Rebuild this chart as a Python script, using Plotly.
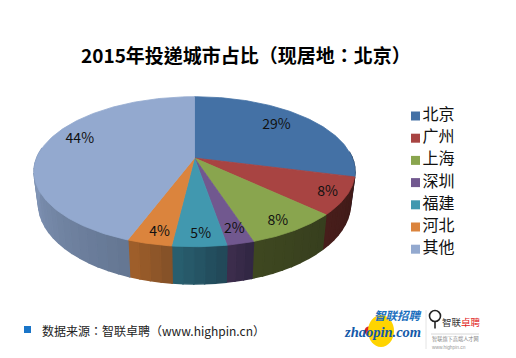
import math
import plotly.graph_objects as go

# Data
categories = ["北京", "广州", "上海", "深圳", "福建", "河北", "其他"]
values = [29.0, 8.0, 8.0, 2.3, 4.6, 3.8, 44.3]
title_text = "2015年投递城市占比（现居地：北京）"
source_text = "数据来源：智联卓聘（www.highpin.cn）"

# Style
top_colors = ["#4471A5", "#A84442", "#89A54E", "#71588F", "#4198AF", "#DB843D", "#93A9CF"]
rim_left = [(45, 72, 105), (72, 30, 27), (62, 72, 32), (62, 46, 78), (41, 97, 113), (162, 96, 42), (135, 155, 190)]
rim_right = [(42, 66, 98), (62, 26, 24), (55, 62, 30), (48, 38, 66), (33, 70, 86), (130, 80, 40), (100, 118, 146)]
label_radius = [0.70, 0.85, 0.90, 0.85, 0.89, 0.88, 0.75]
label_nudge = [(1, -4), (6, 2), (-5, 0), (2, 1), (2, -1), (4, 1.5), (-1, -9)]
FONT = "Noto Sans CJK SC"
W, H = 516, 358
CX, CY = 194.5, 158.0
A, B, K = 157.8, 72.5, 0.1827
X_SCALE, Y_SCALE, DROP = 0.972, 1.07, 31.0
LEG_X, LEG_Y, LEG_STEP = 415.5, 116.0, 22.2


def top_pt(theta_deg, r=1.0):
    t = math.radians(theta_deg)
    u, v = r * math.sin(t), r * math.cos(t)
    d = 1 + K * v
    return CX + A * u / d, CY - B * v / d


def bottom_pt(theta_deg):
    x, y = top_pt(theta_deg)
    return CX + (x - CX) * X_SCALE, CY + DROP + (y - CY) * Y_SCALE


def arc(a, b, step=1.0):
    n = max(2, int(abs(b - a) / step) + 1)
    return [a + (b - a) * i / n for i in range(n + 1)]


total = sum(values)
bounds = [0.0]
for val in values:
    bounds.append(bounds[-1] + val / total * 360)

fig = go.Figure()


def poly(xs, ys, color, lw=0.8):
    fig.add_trace(go.Scatter(x=xs, y=ys, mode="lines", fill="toself", fillcolor=color,
                             line=dict(color=color, width=lw), hoverinfo="skip", showlegend=False))


# Visible rim, shaded left to right
RIM_FROM, RIM_TO = 85.0, 278.0
for i, name in enumerate(categories):
    a, b = max(bounds[i], RIM_FROM), min(bounds[i + 1], RIM_TO)
    if b <= a:
        continue
    angles = arc(a, b, 4.0)
    for j in range(len(angles) - 1):
        t0, t1 = angles[j], angles[j + 1]
        f = (j + 0.5) / (len(angles) - 1)
        c = tuple(round(rim_right[i][k] + (rim_left[i][k] - rim_right[i][k]) * f) for k in range(3))
        p = [top_pt(t0), top_pt(t1), bottom_pt(t1), bottom_pt(t0), top_pt(t0)]
        poly([q[0] for q in p], [q[1] for q in p], f"rgb{c}", lw=1.5)

# Top face
for i, name in enumerate(categories):
    pts = [top_pt(t) for t in arc(bounds[i], bounds[i + 1])]
    xs = [CX] + [q[0] for q in pts] + [CX]
    ys = [CY] + [q[1] for q in pts] + [CY]
    poly(xs, ys, top_colors[i])

# Percentage labels
lx, ly, lt = [], [], []
for i, val in enumerate(values):
    x, y = top_pt((bounds[i] + bounds[i + 1]) / 2, label_radius[i])
    lx.append(x + label_nudge[i][0])
    ly.append(y + label_nudge[i][1])
    lt.append(f"{round(val)}%")
fig.add_trace(go.Scatter(x=lx, y=ly, mode="text", text=lt, textposition="middle center",
                         textfont=dict(family=FONT, size=14, color="#111111"),
                         hoverinfo="skip", showlegend=False))

# Legend
leg_y = [LEG_Y + i * LEG_STEP for i in range(len(categories))]
fig.add_trace(go.Scatter(x=[LEG_X] * len(categories), y=leg_y, mode="markers",
                         marker=dict(symbol="square", size=9, color=top_colors),
                         hoverinfo="skip", showlegend=False))
fig.add_trace(go.Scatter(x=[LEG_X + 7] * len(categories), y=leg_y, mode="text", text=categories,
                         textposition="middle right",
                         textfont=dict(family=FONT, size=16, color="#111111"),
                         hoverinfo="skip", showlegend=False))

shapes = [
    dict(type="rect", x0=24, x1=31, y0=326, y1=333, fillcolor="#1A75C8", line_width=0),
    dict(type="circle", x0=368, x1=394, y0=315, y1=347, fillcolor="#FFD400", line_width=0),
    dict(type="circle", x0=429.5, x1=440.5, y0=310.5, y1=321.5, fillcolor="rgba(0,0,0,0)",
         line=dict(color="#222222", width=1.6)),
    dict(type="line", x0=435, x1=435, y0=321.5, y1=328.5, line=dict(color="#222222", width=1.6)),
    dict(type="line", x0=426, x1=426, y0=310, y1=349, line=dict(color="#E4E4E4", width=1)),
    dict(type="line", x0=431, x1=479, y0=334, y1=334, line=dict(color="#D8D8D8", width=1)),
]


def note(x, y, text, size, color, anchor="left", bold=False, italic=False, family=FONT):
    s = text
    if bold:
        s = f"<b>{s}</b>"
    if italic:
        s = f"<i>{s}</i>"
    return dict(x=x, y=y, text=s, showarrow=False, xanchor=anchor, yanchor="middle",
                font=dict(family=family, size=size, color=color), xref="x", yref="y",
                borderpad=0, xshift=0)


annotations = [
    note(246, 54, title_text, 19, "#000000", "center", bold=True, family="Noto Sans CJK TC"),
    note(41, 330, source_text, 12, "#222222", family="Noto Sans CJK TC"),
    note(373, 315, "智联招聘", 11.5, "#1A6FBE", bold=True, italic=True),
    note(343, 332, "zhaopin.com", 14.5, "#1459A8", bold=True, italic=True, family="Liberation Sans Narrow"),
    note(441, 322, "智联", 9.5, "#333333"),
    note(460, 322, "卓聘", 9.5, "#E02020"),
    note(431, 339, "智联旗下高端人才网", 5.2, "#888888"),
    note(431, 347, "www.highpin.cn", 4.8, "#999999", family="Liberation Sans"),
]

fig.add_trace(go.Scatter(x=[369], y=[331], mode="markers", marker=dict(size=9, color="#D8282A"),
                         hoverinfo="skip", showlegend=False))

fig.update_layout(
    width=W, height=H, margin=dict(l=0, r=0, t=0, b=0),
    paper_bgcolor="white", plot_bgcolor="white", showlegend=False,
    xaxis=dict(range=[0, W], visible=False, fixedrange=True),
    yaxis=dict(range=[H, 0], visible=False, fixedrange=True),
    shapes=shapes, annotations=annotations,
)
fig.write_html("out.html", config=dict(displayModeBar=False, responsive=False),
               post_script="document.body.style.margin='0';document.body.style.overflow='hidden';")
